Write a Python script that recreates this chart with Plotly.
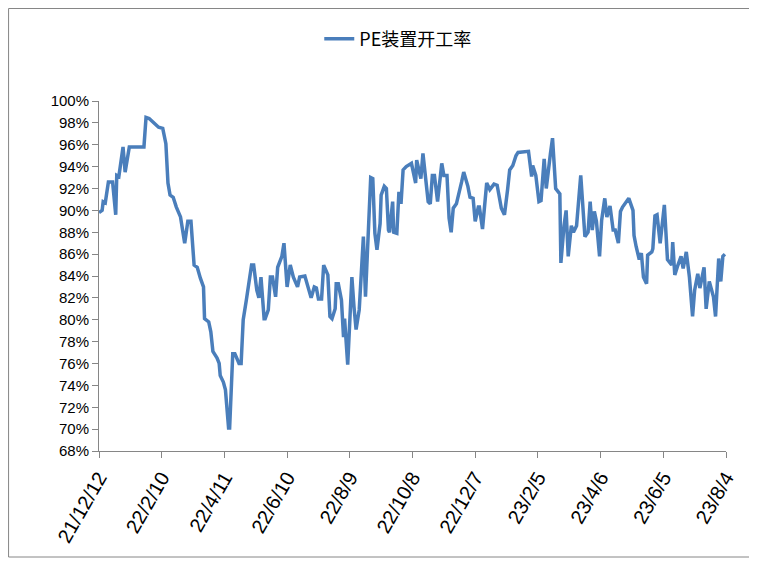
import plotly.graph_objects as go

# PE装置开工率 (percent)
dates = [
    "2021-12-12", "2021-12-15", "2021-12-16", "2021-12-18", "2021-12-21", "2021-12-25", "2021-12-28", "2021-12-29", "2021-12-31",
    "2022-01-04", "2022-01-06", "2022-01-10", "2022-01-24", "2022-01-26", "2022-01-29",
    "2022-02-07", "2022-02-11", "2022-02-14", "2022-02-16", "2022-02-18", "2022-02-21", "2022-02-24", "2022-02-28",
    "2022-03-04", "2022-03-07", "2022-03-10", "2022-03-13", "2022-03-16", "2022-03-19", "2022-03-22", "2022-03-23", "2022-03-27", "2022-03-29", "2022-03-31",
    "2022-04-04", "2022-04-06", "2022-04-07", "2022-04-10", "2022-04-12", "2022-04-15", "2022-04-16", "2022-04-19", "2022-04-21", "2022-04-25", "2022-04-27", "2022-04-29",
    "2022-05-02", "2022-05-05", "2022-05-07", "2022-05-09", "2022-05-12", "2022-05-14", "2022-05-16", "2022-05-19", "2022-05-20", "2022-05-23", "2022-05-25", "2022-05-27", "2022-05-30",
    "2022-06-01", "2022-06-05", "2022-06-07", "2022-06-10", "2022-06-13", "2022-06-16", "2022-06-20", "2022-06-22", "2022-06-27", "2022-06-30",
    "2022-07-03", "2022-07-06", "2022-07-08", "2022-07-10", "2022-07-13", "2022-07-15", "2022-07-19", "2022-07-21", "2022-07-23", "2022-07-26", "2022-07-27", "2022-07-29",
    "2022-08-01", "2022-08-03", "2022-08-04", "2022-08-07", "2022-08-11", "2022-08-13", "2022-08-15", "2022-08-18", "2022-08-22", "2022-08-24", "2022-08-29", "2022-08-31",
    "2022-09-02", "2022-09-04", "2022-09-07", "2022-09-08", "2022-09-11", "2022-09-13", "2022-09-15", "2022-09-16", "2022-09-19", "2022-09-20", "2022-09-23", "2022-09-25", "2022-09-27", "2022-09-29",
    "2022-10-02", "2022-10-07", "2022-10-09", "2022-10-11", "2022-10-12", "2022-10-14", "2022-10-16", "2022-10-18", "2022-10-20", "2022-10-23", "2022-10-25", "2022-10-27", "2022-10-29",
    "2022-11-01", "2022-11-05", "2022-11-07", "2022-11-10", "2022-11-12", "2022-11-14", "2022-11-16", "2022-11-19", "2022-11-22", "2022-11-24", "2022-11-26", "2022-11-30",
    "2022-12-02", "2022-12-05", "2022-12-07", "2022-12-10", "2022-12-11", "2022-12-14", "2022-12-18", "2022-12-21", "2022-12-25", "2022-12-28",
    "2023-01-01", "2023-01-04", "2023-01-07", "2023-01-09", "2023-01-12", "2023-01-15", "2023-01-17", "2023-01-27", "2023-01-30", "2023-01-31",
    "2023-02-03", "2023-02-06", "2023-02-08", "2023-02-11", "2023-02-13", "2023-02-16", "2023-02-17", "2023-02-19", "2023-02-22", "2023-02-26", "2023-02-27",
    "2023-03-02", "2023-03-04", "2023-03-06", "2023-03-09", "2023-03-11", "2023-03-14", "2023-03-18", "2023-03-22", "2023-03-25", "2023-03-27", "2023-03-29", "2023-03-31",
    "2023-04-02", "2023-04-05", "2023-04-07", "2023-04-10", "2023-04-12", "2023-04-15", "2023-04-18", "2023-04-20", "2023-04-23", "2023-04-25", "2023-04-27",
    "2023-05-03", "2023-05-07", "2023-05-08", "2023-05-10", "2023-05-13", "2023-05-15", "2023-05-17", "2023-05-20", "2023-05-21", "2023-05-25", "2023-05-26", "2023-05-28", "2023-05-30",
    "2023-06-02", "2023-06-06", "2023-06-09", "2023-06-13", "2023-06-14", "2023-06-16", "2023-06-19", "2023-06-22", "2023-06-24", "2023-06-27", "2023-06-30",
    "2023-07-03", "2023-07-05", "2023-07-08", "2023-07-10", "2023-07-14", "2023-07-16", "2023-07-19", "2023-07-23", "2023-07-25", "2023-07-28", "2023-07-30",
    "2023-08-01", "2023-08-03",
]

rates = [
    89.8, 90.0, 90.8, 90.7, 92.6, 92.6, 89.6, 93.2, 93.1,
    95.8, 93.5, 95.8, 95.8, 98.5, 98.4,
    97.6, 97.5, 96.1, 92.5, 91.4, 91.2, 90.3, 89.4,
    87.0, 89.0, 89.0, 85.0, 84.8, 83.8, 83.0, 80.1, 79.8, 78.9, 77.1,
    76.5, 76.0, 74.9, 74.3, 73.6, 70.1, 70.1, 76.9, 76.9, 76.0, 76.0, 80.0,
    81.8, 83.9, 85.0, 85.0, 82.7, 82.0, 83.9, 80.1, 80.1, 80.9, 83.9, 83.9, 82.1,
    84.8, 85.8, 87.0, 83.0, 85.0, 83.9, 83.0, 83.9, 84.0, 83.0,
    82.0, 83.0, 82.9, 81.9, 81.9, 85.0, 84.1, 80.3, 80.1, 81.0, 83.3, 83.3,
    81.8, 78.4, 80.1, 75.9, 83.9, 81.2, 79.1, 80.9, 87.6, 82.1, 93.0, 92.9,
    87.9, 86.4, 88.8, 91.4, 92.2, 92.0, 88.2, 88.0, 90.8, 88.0, 87.9, 91.7, 90.6, 93.7,
    94.0, 94.3, 93.5, 92.5, 94.6, 93.8, 92.9, 95.2, 93.2, 90.8, 90.6, 93.2, 93.2,
    90.8, 94.3, 93.2, 93.2, 89.3, 88.0, 90.2, 90.6, 91.7, 92.6, 93.5, 92.2,
    91.2, 91.1, 89.0, 90.3, 90.3, 88.3, 92.5, 91.9, 92.4, 92.3,
    90.2, 89.6, 91.9, 93.7, 94.1, 95.0, 95.3, 95.4, 93.1, 94.1,
    93.2, 90.8, 90.9, 94.7, 92.0, 95.0, 95.2, 96.6, 92.0, 91.5, 85.2,
    88.6, 90.0, 85.8, 88.6, 88.0, 88.6, 93.2, 87.6, 88.0, 90.8, 88.2, 89.9,
    89.0, 85.8, 89.1, 91.1, 89.4, 90.4, 88.2, 88.2, 87.0, 89.9, 90.3,
    91.1, 90.0, 87.7, 86.7, 85.5, 86.1, 83.9, 83.3, 85.9, 86.2, 86.5, 89.5, 89.6,
    87.0, 90.5, 85.5, 85.0, 87.1, 84.1, 85.0, 85.8, 84.7, 86.2, 83.9,
    80.3, 82.7, 84.2, 82.9, 84.8, 81.0, 83.5, 82.1, 80.3, 85.6, 83.5,
    85.8, 86.0,
]

tick_dates = ["2021-12-12", "2022-02-10", "2022-04-11", "2022-06-10", "2022-08-09", "2022-10-08",
              "2022-12-07", "2023-02-05", "2023-04-06", "2023-06-05", "2023-08-04"]
tick_labels = ["21/12/12", "22/2/10", "22/4/11", "22/6/10", "22/8/9", "22/10/8",
               "22/12/7", "23/2/5", "23/4/6", "23/6/5", "23/8/4"]

# page body has an 8px margin, so the figure is drawn 8px smaller and shifted
W, H = 749, 556
ml, mr, mt, mb = 91, 30.5, 93, 113
pw, ph = W - ml - mr, H - mt - mb

fig = go.Figure()
fig.add_trace(go.Scatter(
    x=dates, y=rates, mode="lines", name="PE装置开工率",
    line=dict(color="#4A7EBB", width=3.5),
    showlegend=True,
))

axis_col = "#868686"
fig.update_layout(
    width=W, height=H,
    margin=dict(l=ml, r=mr, t=mt, b=mb),
    paper_bgcolor="white", plot_bgcolor="white",
    font=dict(family="Liberation Sans, Noto Sans CJK SC", size=15, color="black"),
    legend=dict(
        orientation="h", x=(390 - ml) / pw, xanchor="center",
        y=(H - mb - 31) / ph, yanchor="middle",
        font=dict(family="Noto Sans CJK SC", size=18),
        bgcolor="rgba(0,0,0,0)",
    ),
    xaxis=dict(
        type="date", range=[tick_dates[0], tick_dates[-1]],
        tickvals=tick_dates, ticktext=tick_labels, tickangle=-60,
        showgrid=False, zeroline=False,
        showline=True, linecolor=axis_col, linewidth=1,
        ticks="outside", ticklen=6, tickcolor=axis_col,
        tickfont=dict(size=20),
    ),
    yaxis=dict(
        range=[68, 100], tick0=68, dtick=2, ticksuffix="%",
        showgrid=False, zeroline=False,
        showline=True, linecolor=axis_col, linewidth=1,
        ticks="outside", ticklen=6, tickcolor=axis_col,
        tickfont=dict(size=15),
    ),
)

# outer chart border
fig.add_shape(
    type="rect", xref="paper", yref="paper",
    x0=(0.5 - ml) / pw, x1=(744 - ml) / pw,
    y0=(H - mb - 549) / ph, y1=(H - mb - 0.5) / ph,
    line=dict(color=axis_col, width=1), fillcolor="rgba(0,0,0,0)", layer="below",
)

fig.write_html("out.html")
